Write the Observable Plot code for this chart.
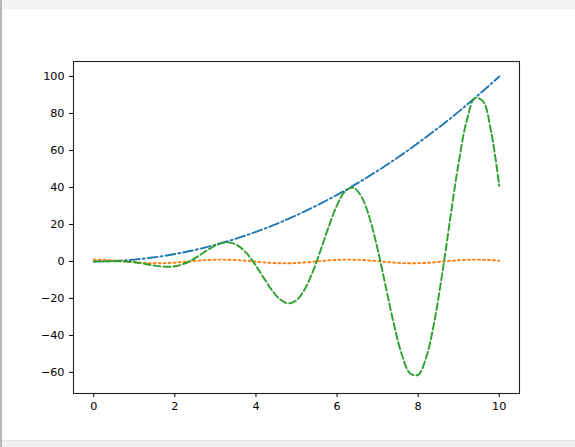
<!DOCTYPE html>
<html>
<head>
<meta charset="utf-8">
<script src="https://cdn.jsdelivr.net/npm/d3@7"></script>
<script src="https://cdn.jsdelivr.net/npm/@observablehq/plot@0.6"></script>
<style>
  html, body { margin: 0; padding: 0; background: #fff; width: 575px; height: 447px; overflow: hidden; }
  #wrap { position: relative; width: 575px; height: 447px; }
  .bar { position: absolute; left: 0; width: 575px; }
  #top { top: 0; height: 9px; background: #f2f2f2; }
  #bottom { top: 440px; height: 7px; background: #f0f0f0; border-top: 1px solid #e4e4e4; }
  #leftedge { position: absolute; left: 0; top: 0; width: 2px; height: 447px; background: #b8b8b8; }
  svg { position: absolute; left: 0; top: 0; }
  #chart svg text { font-family: "DejaVu Sans", sans-serif !important; font-size: 11.2px !important; fill: #000; }
</style>
</head>
<body>
<div id="wrap">
  <div id="chart"></div>
  <div class="bar" id="top"></div>
  <div class="bar" id="bottom"></div>
  <div id="leftedge"></div>
</div>
<script>
const xs = [0,0.2,0.4,0.6,0.8,1,1.2,1.4,1.6,1.8,2,2.2,2.4,2.6,2.8,3,3.2,3.4,3.6,3.8,4,4.2,4.4,4.6,4.8,5,5.2,5.4,5.6,5.8,6,6.2,6.4,6.6,6.8,7,7.2,7.4,7.6,7.8,8,8.2,8.4,8.6,8.8,9,9.2,9.4,9.6,9.8,10];
const blueVals = [0,0.04,0.16,0.36,0.64,1,1.44,1.96,2.56,3.24,4,4.84,5.76,6.76,7.84,9,10.24,11.56,12.96,14.44,16,17.64,19.36,21.16,23.04,25,27.04,29.16,31.36,33.64,36,38.44,40.96,43.56,46.24,49,51.84,54.76,57.76,60.84,64,67.24,70.56,73.96,77.44,81,84.64,88.36,92.16,96.04,100];
const orangeVals = [1,0.921,0.697,0.362,-0.029,-0.416,-0.737,-0.942,-0.998,-0.897,-0.654,-0.307,0.088,0.469,0.776,0.960,0.993,0.869,0.608,0.251,-0.146,-0.519,-0.811,-0.975,-0.985,-0.839,-0.561,-0.194,0.203,0.568,0.844,0.986,0.973,0.806,0.512,0.137,-0.260,-0.615,-0.874,-0.994,-0.958,-0.770,-0.461,-0.079,0.316,0.660,0.901,0.999,0.939,0.731,0.408];
const greenVals = [0,0.037,0.111,0.130,-0.019,-0.416,-1.062,-1.847,-2.556,-2.906,-2.615,-1.487,0.504,3.167,6.080,8.642,10.170,10.050,7.885,3.629,-2.328,-9.160,-15.705,-20.631,-22.687,-20.977,-15.175,-5.669,6.366,19.118,30.380,37.910,39.846,35.101,23.661,6.698,-13.468,-33.699,-50.465,-60.481,-61.293,-51.775,-32.507,-5.821,24.448,53.484,76.227,88.254,86.557,70.244,40.81];
const xTicks = [0,2,4,6,8,10];
const yTicks = [-60,-40,-20,0,20,40,60,80,100];

const blue = xs.map((x,i)=>({x, y: blueVals[i]}));
const orange = xs.map((x,i)=>({x, y: orangeVals[i]}));
const green = xs.map((x,i)=>({x, y: greenVals[i]}));

const lw = 1.9;
const chart = Plot.plot({
  width: 575,
  height: 447,
  marginTop: 61,
  marginBottom: 54,
  marginLeft: 73,
  marginRight: 56,
  style: { fontFamily: "DejaVu Sans", fontSize: "11.2px", color: "#000", background: "transparent" },
  x: { domain: [-0.5, 10.5] },
  y: { domain: [-71.4, 108.1] },
  marks: [
    Plot.line(blue, { x: "x", y: "y", stroke: "#1f77b4", strokeWidth: lw, strokeDasharray: "10,3,2,3", curve: "catmull-rom" }),
    Plot.line(orange, { x: "x", y: "y", stroke: "#ff7f0e", strokeWidth: lw, strokeDasharray: "2,3", curve: "catmull-rom" }),
    Plot.line(green, { x: "x", y: "y", stroke: "#2ca02c", strokeWidth: lw, strokeDasharray: "7,3", curve: "catmull-rom" }),
    Plot.frame({ stroke: "#222", strokeWidth: 1.1 }),
    Plot.axisX({ ticks: xTicks, tickSize: 4, tickPadding: 5, label: null, tickFormat: d => String(d) }),
    Plot.axisY({ ticks: yTicks, tickSize: 4, tickPadding: 5, label: null, tickFormat: d => d < 0 ? "\u2212" + Math.abs(d) : String(d) })
  ]
});
document.getElementById("chart").appendChild(chart);
</script>
</body>
</html>
